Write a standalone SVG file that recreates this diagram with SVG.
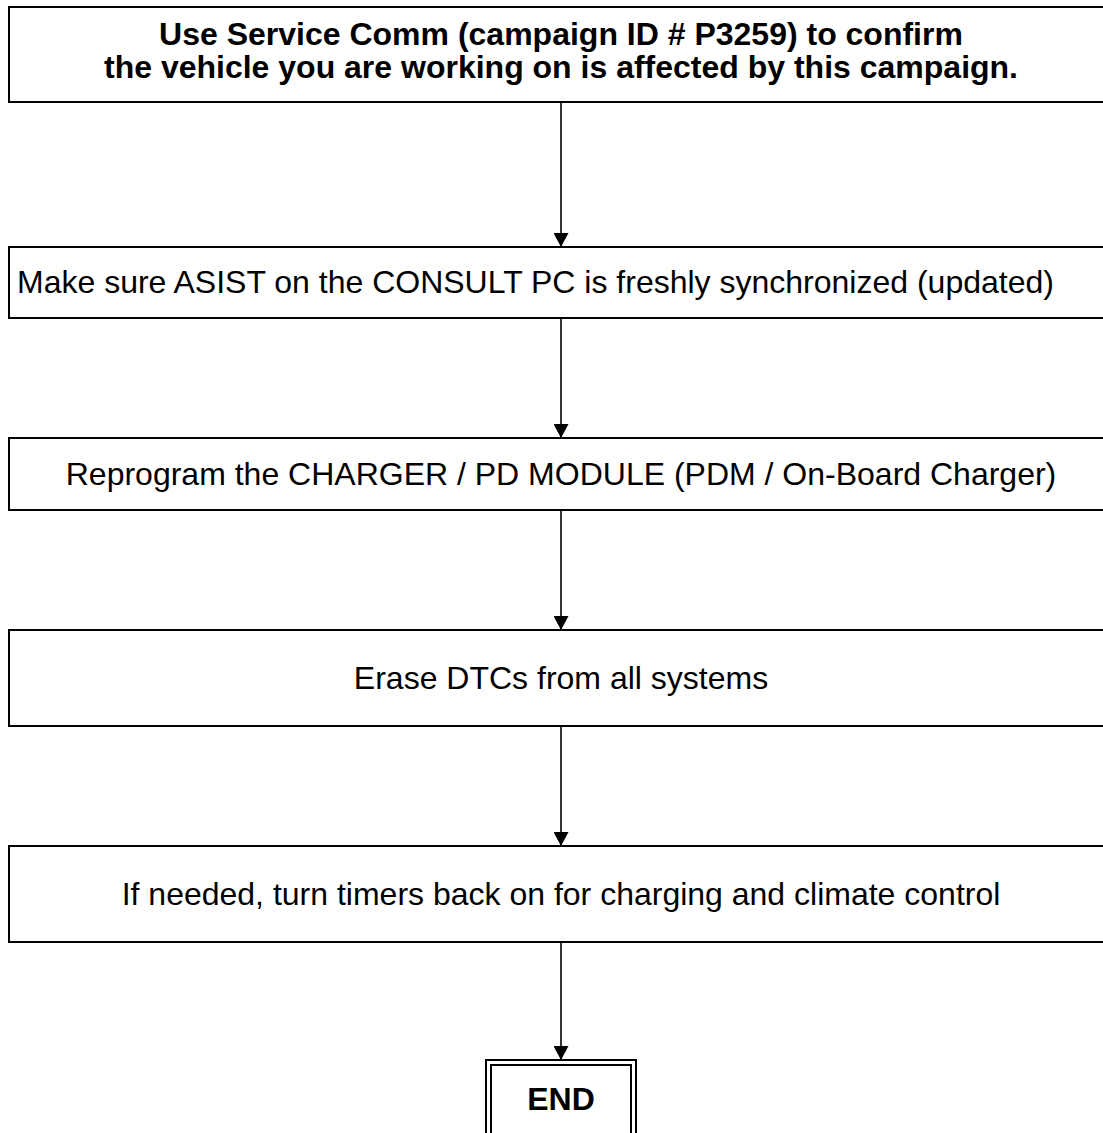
<svg xmlns="http://www.w3.org/2000/svg" width="1103" height="1133" viewBox="0 0 1103 1133">
<style>
.box{fill:#ffffff;stroke:#000000;stroke-width:2}
.t{font-family:"Liberation Sans",Arial,Helvetica,sans-serif;font-size:32px;fill:#000000}
.b{font-weight:bold}
.c{text-anchor:middle}
.conn{stroke:#000000;stroke-width:1.6;fill:none;marker-end:url(#ah)}
</style>
<defs>
<marker id="ah" markerUnits="userSpaceOnUse" markerWidth="14" markerHeight="15" viewBox="0 0 14 15" refX="14" refY="7.5" orient="auto">
<path d="M0,0 L14,7.5 L0,15 Z" fill="#000000"/>
</marker>
</defs>
<rect width="1103" height="1133" fill="#ffffff"/>
<g id="connectors">
<line class="conn" x1="561" y1="102" x2="561" y2="247"/>
<line class="conn" x1="561" y1="318" x2="561" y2="438"/>
<line class="conn" x1="561" y1="510" x2="561" y2="630"/>
<line class="conn" x1="561" y1="726" x2="561" y2="846"/>
<line class="conn" x1="561" y1="942" x2="561" y2="1060"/>
</g>
<g id="node-confirm">
<rect class="box" x="9" y="7" width="1104" height="95"/>
<text class="t b c" x="561" y="45">Use Service Comm (campaign ID # P3259) to confirm</text>
<text class="t b c" x="561" y="78">the vehicle you are working on is affected by this campaign.</text>
</g>
<g id="node-asist">
<rect class="box" x="9" y="247" width="1104" height="71"/>
<text class="t" x="17" y="293">Make sure ASIST on the CONSULT PC is freshly synchronized (updated)</text>
</g>
<g id="node-reprogram">
<rect class="box" x="9" y="438" width="1104" height="72"/>
<text class="t c" x="561" y="485">Reprogram the CHARGER / PD MODULE (PDM / On-Board Charger)</text>
</g>
<g id="node-erase">
<rect class="box" x="9" y="630" width="1104" height="96"/>
<text class="t c" x="561" y="689">Erase DTCs from all systems</text>
</g>
<g id="node-timers">
<rect class="box" x="9" y="846" width="1104" height="96"/>
<text class="t c" x="561" y="905">If needed, turn timers back on for charging and climate control</text>
</g>
<g id="node-end">
<rect class="box" x="486" y="1060" width="150" height="90"/>
<rect class="box" x="491" y="1065" width="140" height="80"/>
<text class="t b c" x="561" y="1110">END</text>
</g>
</svg>
